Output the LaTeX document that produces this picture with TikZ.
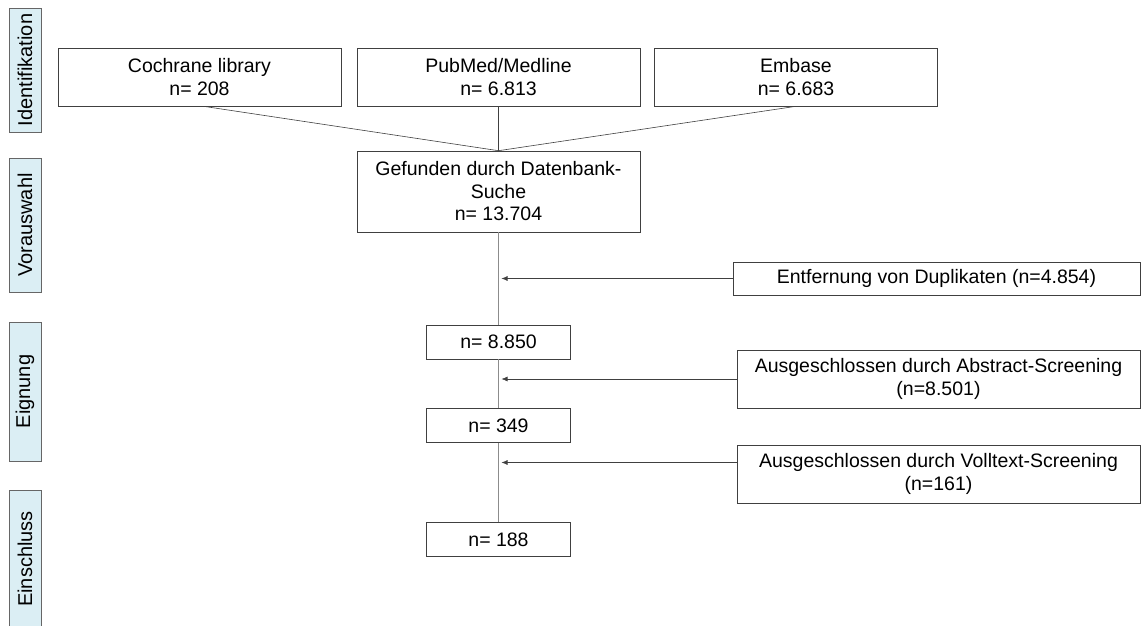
\documentclass[tikz,border=0pt]{standalone}
\usepackage{fontspec}
\setmainfont{Liberation Sans}
\usetikzlibrary{arrows.meta}
\usetikzlibrary{positioning}
\definecolor{phasefill}{RGB}{219,238,244}

\begin{document}
\begin{tikzpicture}[x=1pt, y=-1pt,
	box/.style={draw=black!75, line width=0.6pt, align=center, inner sep=0pt,
		font=\fontsize{19.5}{22.5}\selectfont},
	phase/.style={draw=black!60, fill=phasefill, rotate=90, inner sep=0pt,
		minimum height=32pt, font=\fontsize{20}{22}\selectfont},
	line/.style={draw=black!75, line width=0.6pt},
	flow/.style={draw=black!45, line width=0.6pt},
	arr/.style={line, -{Latex[length=6pt,width=5pt]}}]
	\useasboundingbox (0,0) rectangle (1141,625);
	%% Phases
	\node [phase, minimum width=124pt] (ident) at (25,70) {Identifikation};
	\node [phase, minimum width=134pt] (vorw) at (25,225) {Vorauswahl};
	\node [phase, minimum width=139pt] (eign) at (25,391.5) {Eignung};
	\node [phase, minimum width=138pt] (einsch) at (25,559) {Einschluss};
	%% Sources
	\node [box, minimum width=283pt, minimum height=58pt] (cochrane) at (199.5,77) {Cochrane library\\n= 208};
	\node [box, minimum width=283pt, minimum height=58pt] (pubmed) at (498.5,77) {PubMed/Medline\\n= 6.813};
	\node [box, minimum width=283pt, minimum height=58pt] (embase) at (796,77) {Embase\\n= 6.683};
	%% Main column
	\node [box, minimum width=283pt, minimum height=81pt] (found) at (498.5,191.5) {Gefunden durch Datenbank-\\Suche\\n= 13.704};
	\node [box, minimum width=144pt, minimum height=34pt] (dedup) at (498.5,342) {n= 8.850};
	\node [box, minimum width=144pt, minimum height=34pt] (abstr) at (498.5,425.5) {n= 349};
	\node [box, minimum width=144pt, minimum height=34pt] (incl) at (498.5,539.5) {n= 188};
	%% Exclusions
	\node [box, minimum width=407pt, minimum height=33pt] (exdup) at (936.5,278.5) {Entfernung von Duplikaten (n=4.854)};
	\node [box, minimum width=403pt, minimum height=58pt] (exabs) at (938.5,379) {Ausgeschlossen durch Abstract-Screening\\(n=8.501)};
	\node [box, minimum width=403pt, minimum height=58pt] (exfull) at (938.5,474) {Ausgeschlossen durch Volltext-Screening\\(n=161)};
	\coordinate (j1) at (found.south |- exdup.west);
	\coordinate (j2) at (found.south |- exabs.west);
	\coordinate (j3) at (498.5,462.5);
	%% Flows
	\path [line] ([xshift=4pt]cochrane.south) -- (found.north);
	\path [line] (pubmed) -- (found);
	\path [line] (embase.south) -- (found.north);
	\path [flow] (found) -- (dedup);
	\path [flow] (dedup) -- (abstr);
	\path [flow] (abstr) -- (incl);
	\path [arr] (exdup) -- ([xshift=3pt]j1);
	\path [arr] (exabs) -- ([xshift=3pt]j2);
	\path [arr] (exfull.west |- j3) -- ([xshift=3pt]j3);
\end{tikzpicture}
\end{document}
